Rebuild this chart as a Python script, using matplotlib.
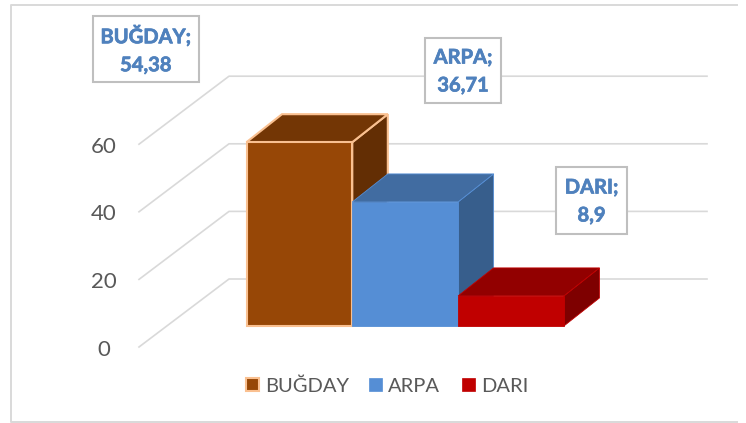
import matplotlib
matplotlib.use("Agg")
import matplotlib.pyplot as plt
import matplotlib.patheffects as pe
from matplotlib.patches import Polygon, Rectangle

categories = ["BUĞDAY", "ARPA", "DARI"]
values = [54.38, 36.71, 8.9]
value_labels = ["54,38", "36,71", "8,9"]
ticks = [0, 20, 40, 60]

front_colors = ["#974706", "#558ED5", "#C00000"]
top_colors = ["#733605", "#416CA1", "#920000"]
side_colors = ["#632E04", "#375E8C", "#7E0000"]
edge_colors = ["#FAC090", "#558ED5", "#C00000"]

plt.rcParams["font.family"] = ["Lato", "DejaVu Sans"]

fig = plt.figure(figsize=(7.46, 4.23), dpi=100)
ax = fig.add_axes([0, 0, 1, 1])
ax.set_xlim(0, 746)
ax.set_ylim(423, 0)
ax.axis("off")

# pixels per unit on the walls
unit = 3.38
wall_zero = 279
floor_zero = 347


def wall_y(v):
    return wall_zero - v * unit


def front_y(v):
    return floor_zero - v * unit


def bar_y(v):
    return 326 - v * unit


# outer frame, no right edge in the original crop
ax.plot([737, 11, 11, 737], [5, 5, 422, 422], c="#D9D9D9", lw=1.4)

# gridlines
for v in ticks:
    ax.plot([139, 229, 707], [front_y(v), wall_y(v), wall_y(v)], c="#D9D9D9", lw=1.2, zorder=1)
    ax.text(104, front_y(v) + 2.5, str(v), ha="center", va="center", fontsize=16, color="#595959")

# bars, oblique box for each one
bar_w = 105.8
dx, dy = 35.5, -28
left = 246.5
for i, v in enumerate(values):
    x0 = left + i * bar_w
    x1 = x0 + bar_w
    y0 = bar_y(0)
    y1 = bar_y(v)
    z = 3 + i * 0.1
    lw = 1.5 if i == 0 else 0.6
    ax.add_patch(Polygon([(x1, y0), (x1 + dx, y0 + dy), (x1 + dx, y1 + dy), (x1, y1)],
                         fc=side_colors[i], ec=edge_colors[i], lw=lw, zorder=z))
    ax.add_patch(Polygon([(x0, y1), (x1, y1), (x1 + dx, y1 + dy), (x0 + dx, y1 + dy)],
                         fc=top_colors[i], ec=edge_colors[i], lw=lw, zorder=z))
    ax.add_patch(Rectangle((x0, y1), bar_w, y0 - y1, fc=front_colors[i], ec=edge_colors[i], lw=lw, zorder=z + 0.01))

# data label boxes
boxes = [(92.5, 16, 106.5, 66), (425, 38, 76, 65), (556, 167, 71, 67)]
for (bx, by, bw, bh), name, lab in zip(boxes, categories, value_labels):
    ax.add_patch(Rectangle((bx, by), bw, bh, fc="white", ec="#BFBFBF", lw=1.5, zorder=6))
    t = ax.text(bx + bw / 2, by + bh / 2 + 1, f"{name};\n{lab}", ha="center", va="center", fontsize=14.5,
                fontweight="bold", color="#4F81BD", linespacing=1.5, zorder=7)
    t.set_path_effects([pe.withStroke(linewidth=0.5, foreground="#4F81BD")])

# legend
legend_x = [246, 369, 462]
for lx, name, fc, ec in zip(legend_x, categories, front_colors, edge_colors):
    ax.add_patch(Rectangle((lx, 378), 13, 13, fc=fc, ec=ec, lw=1.5 if name == "BUĞDAY" else 0.5))
    ax.text(lx + 19, 386, name, ha="left", va="center", fontsize=14.5, color="#595959")

fig.savefig("out.png", dpi=100)
